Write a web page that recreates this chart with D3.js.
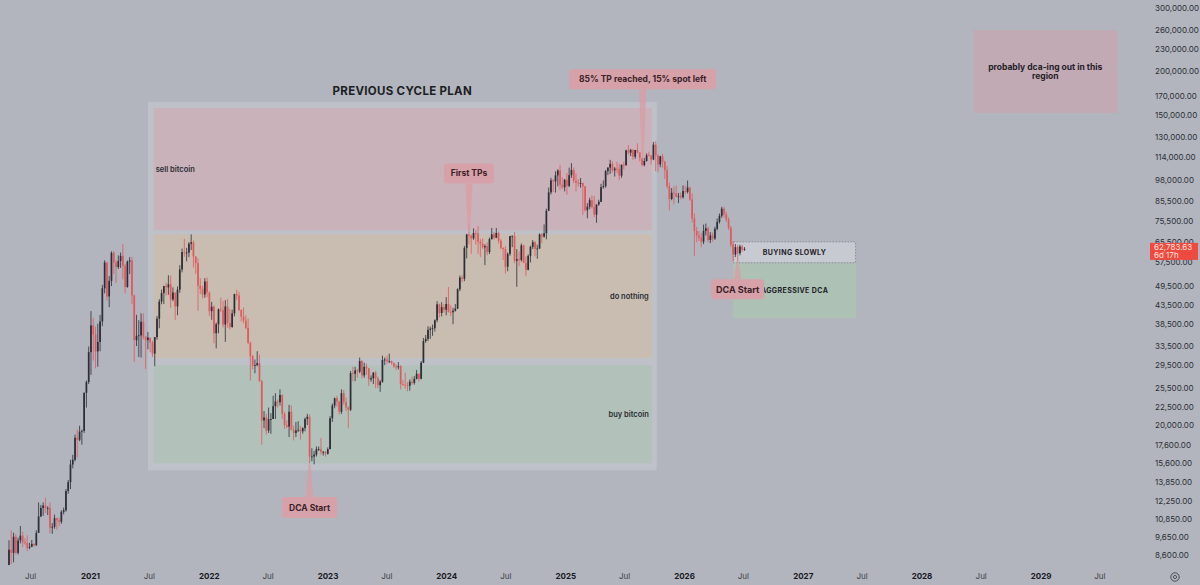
<!DOCTYPE html>
<html><head><meta charset="utf-8">
<script src="https://cdn.jsdelivr.net/npm/d3@7"></script>
<style>
body{margin:0;background:#b2b5be;}
svg{display:block}
text{font-family:Inter,"Noto Sans",sans-serif;}
</style>
</head><body>
<svg id="c" width="1200" height="585"></svg>
<script>
// ---------- DATA (prices in thousands of USD, weekly candles, week start Monday) ----------
const firstWeek = "2020-04-20";
const firstOpen = 7.1;
const closes = [
 7.70,8.90,8.72,9.68,8.72,9.45,9.75,9.34,9.30,9.01,9.07,9.24,9.16,9.93,11.05,11.68,11.85,11.65,11.68,10.27,10.33,10.93,10.77,10.67,11.38,11.50,13.03,13.80,15.48,15.96,18.41,18.18,19.15,19.25,24.66,26.44,32.1,
 38.2,36.0,32.26,34.3,39.2,48.6,57.5,46.1,51.0,61.2,57.4,55.8,58.0,60.0,56.2,49.0,57.8,58.2,46.4,34.7,35.7,35.8,39.1,35.5,34.7,35.3,34.2,31.8,35.4,39.9,44.6,47.1,49.3,48.9,49.9,45.2,47.3,43.2,48.2,54.9,61.5,61.3,61.3,64.9,65.5,59.7,57.2,49.4,48.4,46.7,50.8,47.3,
 41.9,43.1,36.3,38.5,42.4,42.2,38.4,43.2,38.8,37.8,41.3,46.8,46.4,42.2,40.4,39.4,37.6,34.1,31.3,29.4,29.5,29.9,26.6,20.6,21.0,19.3,20.8,20.8,22.6,23.3,23.2,24.3,21.5,20.0,19.8,21.8,19.4,19.0,19.3,19.4,19.2,19.6,20.8,21.1,16.3,16.3,16.5,17.1,17.1,16.8,16.8,16.6,
 17.1,20.9,22.7,23.8,23.3,21.8,24.6,23.2,22.4,22.1,28.0,27.9,28.5,28.3,30.3,27.6,29.2,28.9,26.9,27.1,28.1,27.1,25.9,26.5,30.5,30.6,30.3,30.3,29.9,29.3,29.1,29.3,26.1,26.0,25.9,25.8,26.5,26.3,27.0,27.9,27.0,30.0,34.5,35.0,37.1,37.4,37.5,39.5,43.8,41.4,43.0,42.3,
 43.9,41.7,41.6,42.0,42.6,48.3,52.1,51.7,63.1,68.9,68.4,67.2,69.6,69.4,65.7,64.9,63.4,63.9,61.5,66.9,69.0,67.5,69.6,66.2,63.2,62.7,55.9,60.8,68.2,68.3,58.1,58.7,58.4,64.2,57.3,54.8,60.0,63.6,65.6,62.8,62.9,69.0,68.0,69.5,80.4,90.6,98.0,97.3,101.2,104.4,95.2,93.7,98.3,
 94.5,101.3,104.7,97.7,96.5,96.1,96.3,94.2,80.7,82.6,86.1,82.3,78.4,83.7,85.2,93.7,94.3,104.0,106.4,109.0,104.6,105.7,105.6,101.0,108.4,108.2,119.0,117.3,119.4,114.2,119.3,117.4,113.5,108.2,111.1,115.3,115.2,112.2,123.5,115.1,108.6,114.5,110.5,104.7,94.3,86.8,90.4,90.0,88.2,88.6,87.8,91.4,
 90.9,93.5,86.5,76.5,70.5,68.5,67.5,65.8,70.5,71.8,66.5,68.5,67.2,71.5,74.8,77.8,81.5,78.5,76.0,72.0,64.5,60.5,63.5,61.0,63.8,62.4,62.78
];
const highs = [
 7.79,9.47,10.07,9.94,9.84,9.62,10.38,10.0,9.59,9.77,9.3,9.48,9.28,10.1,12.1,11.9,12.1,12.47,11.8,12.09,10.58,11.18,10.95,10.95,11.5,11.7,13.2,14.0,15.96,16.48,18.8,19.4,19.9,19.42,24.7,26.7,33.3,
 41.9,40.1,37.9,38.6,40.9,49.7,58.3,57.5,52.6,61.8,61.8,58.4,60.2,61.3,64.9,57.0,58.2,59.5,59.6,46.6,40.9,39.5,41.3,41.3,35.7,36.6,35.1,34.6,35.4,40.6,45.3,48.2,49.4,50.4,52.9,52.8,48.9,45.0,49.2,56.5,62.9,67.0,63.2,65.6,69.0,66.3,59.9,59.0,51.9,49.4,51.9,52.1,
 47.6,44.5,43.5,38.9,42.6,45.8,44.8,45.0,45.4,42.5,42.3,46.9,48.2,47.5,42.4,42.9,40.8,40.0,34.4,31.5,30.6,32.3,31.6,26.8,21.9,21.5,22.4,21.6,24.2,24.6,23.6,25.2,24.4,21.8,20.6,22.8,22.7,19.9,20.4,20.5,19.9,19.7,21.0,21.5,21.4,17.2,16.9,17.4,17.4,18.4,16.9,16.9,
 17.3,21.2,23.0,23.9,24.2,23.4,25.2,25.1,23.9,22.6,28.4,29.2,29.2,28.8,31.0,30.5,30.0,29.8,29.0,27.6,28.2,28.4,27.4,26.8,31.4,31.0,31.4,31.8,30.4,30.1,29.7,30.1,29.5,26.8,28.1,26.4,26.9,27.4,27.5,28.6,27.9,30.3,35.2,35.9,38.0,37.9,38.4,39.7,44.7,44.0,44.4,43.8,
 45.9,49.0,43.5,42.8,43.9,48.6,52.8,52.9,64.0,69.2,73.8,68.9,71.7,71.0,72.8,66.9,67.2,64.7,65.5,67.6,71.9,70.0,71.9,70.2,66.9,63.4,63.8,61.3,68.3,68.5,70.1,62.7,61.8,65.0,64.5,59.8,60.6,64.1,66.5,66.0,64.5,69.4,69.5,73.6,81.5,93.5,99.6,98.7,103.9,105.3,108.3,99.9,98.9,
 102.7,106.4,109.6,106.5,102.5,98.8,99.5,96.5,94.4,84.5,87.5,88.8,88.5,83.9,86.4,95.8,97.9,104.8,106.6,111.9,110.7,106.8,110.5,108.9,108.5,110.5,119.5,123.2,120.2,119.8,119.4,124.5,117.6,113.3,113.4,116.7,117.9,115.4,125.7,126.2,115.9,114.9,116.4,111.2,107.5,96.6,93.1,94.2,94.6,90.3,90.5,94.8,
 94.7,97.9,94.0,90.0,79.0,72.5,70.5,69.5,73.5,74.0,72.5,70.0,69.8,72.5,76.5,79.0,82.5,82.5,80.0,77.0,72.8,66.0,64.8,64.5,64.5,64.5,63.5
];
const lows = [
 6.79,7.57,8.11,8.2,8.63,8.63,9.27,9.05,9.2,8.82,8.93,9.05,9.09,9.13,9.92,11.0,11.1,11.3,11.15,9.9,9.87,10.2,10.14,10.37,10.53,11.2,11.4,12.8,13.2,15.1,15.8,16.2,18.0,17.6,19.0,22.4,26.1,
 27.7,30.4,28.9,29.2,32.3,38.0,47.0,44.9,43.0,49.3,53.3,50.3,55.1,55.5,51.5,47.0,48.8,53.3,43.9,30.1,33.4,31.1,31.0,34.9,28.8,32.7,32.1,31.1,29.3,34.8,37.5,43.8,43.9,46.4,46.6,42.8,44.7,39.6,40.8,47.2,53.9,59.6,57.9,59.5,62.3,55.6,53.3,42.0,46.8,45.5,45.7,45.9,
 40.6,39.6,34.0,32.9,36.3,41.7,37.7,34.3,37.6,37.2,37.6,40.5,45.0,41.9,39.2,38.7,37.3,33.8,26.7,28.7,28.0,29.3,26.5,17.6,19.6,18.8,19.0,18.9,20.8,20.8,22.4,22.7,20.8,19.5,19.6,18.5,19.3,18.1,18.5,19.1,18.2,18.9,19.2,20.0,15.6,15.8,15.5,16.3,16.9,16.5,16.4,16.3,
 16.5,17.1,20.4,22.3,22.5,21.4,21.5,22.8,21.9,19.6,21.9,26.6,26.6,27.2,28.0,27.1,27.2,27.7,25.8,26.5,26.1,25.4,25.4,24.8,26.3,29.5,29.7,29.9,29.6,29.0,28.6,28.7,25.2,25.8,25.3,24.9,25.0,26.0,26.0,26.9,26.5,26.9,29.9,34.1,34.5,35.0,35.7,36.7,39.0,40.2,40.5,41.5,
 40.8,41.5,40.6,38.5,41.8,42.5,47.7,50.6,50.9,59.0,64.6,60.8,66.6,64.5,60.7,59.6,62.8,56.5,60.2,60.7,66.7,66.7,67.3,65.0,62.5,58.4,53.5,54.3,60.0,63.5,57.2,49.1,56.1,57.8,57.2,52.6,54.6,57.5,62.7,59.8,58.9,62.8,65.1,67.5,66.8,80.3,89.4,90.8,90.5,94.2,92.2,92.6,91.2,
 89.2,93.7,99.5,96.2,91.2,94.1,93.4,78.2,80.0,76.6,81.2,81.6,77.1,74.4,83.1,85.1,92.8,93.4,101.4,102.1,103.1,100.4,102.7,98.2,99.6,105.2,107.5,115.7,114.7,112.0,112.6,116.8,110.7,107.3,107.3,110.6,114.8,108.6,111.7,104.0,103.5,106.7,106.3,98.9,93.0,80.6,86.1,83.8,87.6,84.5,86.6,87.0,
 89.5,90.0,85.8,74.5,60.0,65.5,66.0,63.5,64.8,68.5,65.5,65.2,65.8,66.5,70.8,74.0,76.8,77.0,74.8,71.0,63.5,58.0,59.5,57.5,60.2,61.5,62.0
];

const yTicks = [300,260,230,200,170,150,130,114,98,85.5,75.5,65.5,57.5,49.5,43.5,38.5,33.5,29.5,25.5,22.5,20,17.6,15.6,13.85,12.25,10.85,9.65,8.6];
const xTickDates = ["2020-07-01","2021-01-01","2021-07-01","2022-01-01","2022-07-01","2023-01-01","2023-07-01","2024-01-01","2024-07-01","2025-01-01","2025-07-01","2026-01-01","2026-07-01","2027-01-01","2027-07-01","2028-01-01","2028-07-01","2029-01-01","2029-07-01"];
const xTickLabels = ["Jul","2021","Jul","2022","Jul","2023","Jul","2024","Jul","2025","Jul","2026","Jul","2027","Jul","2028","Jul","2029","Jul"];

const lastPrice = "62,783.63";
const countdown = "6d 17h";

// Previous cycle plan
const planTitle = "PREVIOUS CYCLE PLAN";
const frameDates = ["2021-06-28","2025-10-09"];
const framePrices = [163, 14.9];
const zoneLabels = ["sell bitcoin","do nothing","buy bitcoin"];
const zoneTops = [156.7, 69.0, 29.5];
const zoneBottoms = [70.9, 30.9, 15.6];
const zoneDates = ["2021-07-16","2025-09-24"];

// Current plan
const planLabels = ["BUYING SLOWLY","AGGRESSIVE DCA"];
const planTops = [65.9, 57.2];
const planBottoms = [57.2, 40.0];
const planDates = ["2026-06-01","2027-06-14"];

const exitLabel = ["probably dca-ing out in this","region"];
const exitPrices = [260, 151.7];
const exitDates = ["2028-06-09","2029-08-24"];

const calloutTexts = ["First TPs","85% TP reached, 15% spot left","DCA Start","DCA Start"];
const calloutTipDates = ["2024-03-11","2025-08-27","2022-11-07","2026-06-15"];
const calloutTipPrices = [69.5, 111.8, 15.6, 58.4];
const calloutBoxPrices = [102.5, 189, 11.7, 48.3];

// ---------- CHART ----------
const W = 1200, H = 585, plotW = 1145, plotH = 565;
const parse = d3.utcParse("%Y-%m-%d");
const svg = d3.select("#c");
svg.append("rect").attr("width", W).attr("height", H).attr("fill", "#b2b5be");

const base = d3.scaleUtc().domain([parse("2021-01-01"), parse("2026-01-01")]).range([90, 684]);
const x = d3.scaleUtc().domain([base.invert(0), base.invert(plotW)]).range([0, plotW]);
const y = d3.scaleLog().domain([300, 8.6]).range([8, 555]);

svg.append("clipPath").attr("id", "plot").append("rect")
  .attr("x", 0).attr("y", 0).attr("width", plotW).attr("height", plotH);
const g = svg.append("g").attr("clip-path", "url(#plot)");

// frame + zones
const fx0 = x(parse(frameDates[0])), fx1 = x(parse(frameDates[1]));
g.append("rect").attr("x", fx0).attr("y", y(framePrices[0]))
  .attr("width", fx1 - fx0).attr("height", y(framePrices[1]) - y(framePrices[0]))
  .attr("fill", "#bec1c8");
const zoneFill = ["#c9b2ba", "#c9bdb1", "#b2c2ba"];
const zx0 = x(parse(zoneDates[0])), zx1 = x(parse(zoneDates[1]));
zoneLabels.forEach((lab, i) => {
  g.append("rect").attr("x", zx0).attr("y", y(zoneTops[i]))
    .attr("width", zx1 - zx0).attr("height", y(zoneBottoms[i]) - y(zoneTops[i]))
    .attr("fill", zoneFill[i]);
});
svg.append("text").attr("x", (fx0 + fx1) / 2).attr("y", y(framePrices[0]) - 11)
  .attr("text-anchor", "middle").attr("dominant-baseline", "central")
  .attr("font-size", 11.5).attr("font-weight", 700).attr("fill", "#1c1e24")
  .attr("letter-spacing", 0.3).text(planTitle);
zoneLabels.forEach((lab, i) => {
  const yc = (y(zoneTops[i]) + y(zoneBottoms[i])) / 2;
  const left = i === 0;
  svg.append("text").attr("x", left ? zx0 + 2 : zx1 - 3).attr("y", yc)
    .attr("text-anchor", left ? "start" : "end").attr("dominant-baseline", "central")
    .attr("font-size", 7.5).attr("font-weight", 600).attr("fill", "#2a2c32").text(lab);
});

// plan boxes
const px0 = x(parse(planDates[0])), px1 = x(parse(planDates[1]));
g.append("rect").attr("x", px0).attr("y", y(planTops[1]))
  .attr("width", px1 - px0).attr("height", y(planBottoms[1]) - y(planTops[1]))
  .attr("fill", "#adc2b4");
g.append("rect").attr("x", px0 + 0.5).attr("y", y(planTops[0]) + 0.5)
  .attr("width", px1 - px0 - 1).attr("height", y(planBottoms[0]) - y(planTops[0]) - 1)
  .attr("fill", "#c7cad1").attr("stroke", "#7d8088").attr("stroke-width", 0.8)
  .attr("stroke-dasharray", "1.5,1.5");

// exit box
const ex0 = x(parse(exitDates[0])), ex1 = x(parse(exitDates[1]));
g.append("rect").attr("x", ex0).attr("y", y(exitPrices[0]))
  .attr("width", ex1 - ex0).attr("height", y(exitPrices[1]) - y(exitPrices[0]))
  .attr("fill", "#c1aab4");

// candles
const candles = closes.map((c, i) => ({
  date: d3.utcDay.offset(parse(firstWeek), 7 * i),
  o: i === 0 ? firstOpen : closes[i - 1],
  h: highs[i], l: lows[i], c
}));
const upCol = "#2b2e36", downCol = "#e2585c";
const cg = g.append("g");
cg.selectAll("line").data(candles).join("line")
  .attr("x1", d => x(d.date)).attr("x2", d => x(d.date))
  .attr("y1", d => y(d.h)).attr("y2", d => y(d.l))
  .attr("stroke", d => d.c >= d.o ? upCol : downCol).attr("stroke-width", 0.8);
cg.selectAll("rect").data(candles).join("rect")
  .attr("x", d => x(d.date) - 0.85).attr("width", 1.7)
  .attr("y", d => y(Math.max(d.o, d.c)))
  .attr("height", d => Math.max(0.8, Math.abs(y(d.o) - y(d.c))))
  .attr("fill", d => d.c >= d.o ? upCol : downCol);

// plan labels
planLabels.forEach((lab, i) => {
  svg.append("text").attr("x", (px0 + px1) / 2).attr("y", (y(planTops[i]) + y(planBottoms[i])) / 2)
    .attr("text-anchor", "middle").attr("dominant-baseline", "central")
    .attr("font-size", 7).attr("font-weight", 700).attr("letter-spacing", 0.4)
    .attr("fill", "#1f2127").text(lab);
});
exitLabel.forEach((t, i) => {
  svg.append("text").attr("x", (ex0 + ex1) / 2).attr("y", (y(exitPrices[0]) + y(exitPrices[1])) / 2 - 4.5 + i * 9)
    .attr("text-anchor", "middle").attr("dominant-baseline", "central")
    .attr("font-size", 8.5).attr("font-weight", 700).attr("fill", "#1f2127").text(t);
});

// callouts
const boxW = [50, 147, 55, 53], boxH = [20, 20, 21, 20];
calloutTexts.forEach((t, i) => {
  const tx = x(parse(calloutTipDates[i])), ty = y(calloutTipPrices[i]);
  const by = y(calloutBoxPrices[i]);
  const above = by < ty;
  const edge = above ? by + boxH[i] / 2 : by - boxH[i] / 2;
  const path = d3.path();
  path.moveTo(tx - 3.5, edge);
  path.lineTo(tx + 3.5, edge);
  path.lineTo(tx + 1, ty + (above ? -2 : 2));
  path.lineTo(tx, ty);
  path.lineTo(tx - 1, ty + (above ? -2 : 2));
  path.closePath();
  svg.append("path").attr("d", path.toString()).attr("fill", "#d89ea6").attr("opacity", 0.85);
  svg.append("rect").attr("x", tx - boxW[i] / 2).attr("y", by - boxH[i] / 2)
    .attr("width", boxW[i]).attr("height", boxH[i]).attr("rx", 3)
    .attr("fill", "#d7a1a9");
  svg.append("text").attr("x", tx).attr("y", by).attr("text-anchor", "middle")
    .attr("dominant-baseline", "central").attr("font-size", i === 3 ? 9 : 8.5)
    .attr("font-weight", 700).attr("fill", "#3a2228").text(t);
});

// x axis
const xa = svg.append("g").attr("transform", `translate(0,${plotH})`)
  .call(d3.axisBottom(x).tickValues(xTickDates.map(parse))
    .tickFormat((d, i) => xTickLabels[i]).tickSize(0).tickPadding(8));
xa.select(".domain").remove();
xa.selectAll("text").attr("font-family", "Roboto, sans-serif")
  .attr("font-size", 8)
  .attr("font-weight", (d, i) => xTickLabels[i] === "Jul" ? 400 : 700)
  .attr("fill", (d, i) => xTickLabels[i] === "Jul" ? "#3c3f47" : "#17191e");

// y axis
const fmt = d3.format(",.2f");
const ya = svg.append("g").attr("transform", `translate(1155,0)`)
  .call(d3.axisRight(y).tickValues(yTicks).tickFormat(d => fmt(d * 1000)).tickSize(0).tickPadding(0));
ya.select(".domain").remove();
ya.selectAll("text").attr("font-family", "Roboto, sans-serif").attr("font-size", 8)
  .attr("fill", "#2c2f36").attr("text-anchor", "start");

// last price label (drawn over the axis, as in the reference)
const lp = y(closes[closes.length - 1]);
svg.append("rect").attr("x", 1150).attr("y", lp - 6).attr("width", 48).attr("height", 17)
  .attr("fill", "#ef4a40");
svg.append("text").attr("x", 1154).attr("y", lp - 1.5).attr("dominant-baseline", "central")
  .attr("font-family", "Roboto, sans-serif").attr("font-size", 8).attr("fill", "#fde3df").text(lastPrice);
svg.append("text").attr("x", 1154).attr("y", lp + 6).attr("dominant-baseline", "central")
  .attr("font-family", "Roboto, sans-serif").attr("font-size", 8).attr("fill", "#fde3df").text(countdown);

// settings icon
svg.append("circle").attr("cx", 1175).attr("cy", 577).attr("r", 4.2)
  .attr("fill", "none").attr("stroke", "#4a4d55").attr("stroke-width", 1);
svg.append("circle").attr("cx", 1175).attr("cy", 577).attr("r", 1.6)
  .attr("fill", "none").attr("stroke", "#4a4d55").attr("stroke-width", 0.9);
</script>
</body></html>
